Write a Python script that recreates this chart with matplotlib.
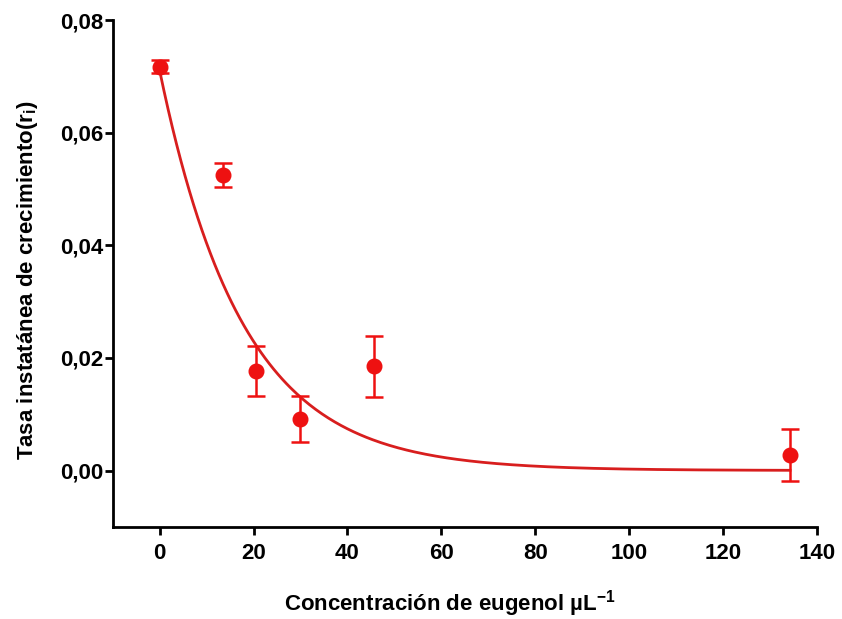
import numpy as np
import matplotlib.pyplot as plt

plt.rcParams['font.family'] = ['Liberation Sans', 'DejaVu Sans']
plt.rcParams['font.weight'] = 'bold'
plt.rcParams['mathtext.fontset'] = 'custom'
plt.rcParams['mathtext.rm'] = 'Liberation Sans:bold'
plt.rcParams['mathtext.bf'] = 'Liberation Sans:bold'

# data
conc = [0, 13.4, 20.5, 29.8, 45.7, 134.3]
rate = [0.0718, 0.0525, 0.0177, 0.0092, 0.0185, 0.0028]
err = [0.0012, 0.0021, 0.0044, 0.0041, 0.0054, 0.0046]

# one-phase exponential decay fit shown as the line
y0 = 0.071
k = 0.0565

xticks = [0, 20, 40, 60, 80, 100, 120, 140]
yticks = [0.00, 0.02, 0.04, 0.06, 0.08]

fig = plt.figure(figsize=(8.42, 6.19), dpi=100)
ax = fig.add_axes([0.134, 0.149, 0.836, 0.818])

xs = np.linspace(0, max(conc), 300)
ax.plot(xs, y0 * np.exp(-k * xs), color='#d81e1e', lw=2, zorder=2)
ax.errorbar(conc, rate, yerr=err, fmt='o', color='#ee1111', ms=10.5,
            elinewidth=1.8, capsize=6.5, capthick=1.8, zorder=3)

ax.set_xlim(-10, 140)
ax.set_ylim(-0.01, 0.08)
ax.set_xticks(xticks)
ax.set_yticks(yticks)
ax.set_yticklabels(['{:.2f}'.format(v).replace('.', ',') for v in yticks])

for s in ['top', 'right']:
    ax.spines[s].set_visible(False)
for s in ['left', 'bottom']:
    ax.spines[s].set_linewidth(2)
ax.tick_params(width=2, length=6, labelsize=16)
ax.tick_params(axis='x', pad=6)
ax.tick_params(axis='y', pad=1)
for lab in ax.get_xticklabels() + ax.get_yticklabels():
    lab.set_fontweight('bold')

ax.set_xlabel('Concentración de eugenol µL$^{\\mathrm{-1}}$', fontsize=16,
              fontweight='bold')
ax.set_ylabel('Tasa instatánea de crecimiento(r$_{\\mathrm{i}}$)', fontsize=16,
              fontweight='bold')
ax.xaxis.set_label_coords(0.478, -0.122)
ax.yaxis.set_label_coords(-0.104, 0.487)

fig.savefig('out.png', dpi=100)
